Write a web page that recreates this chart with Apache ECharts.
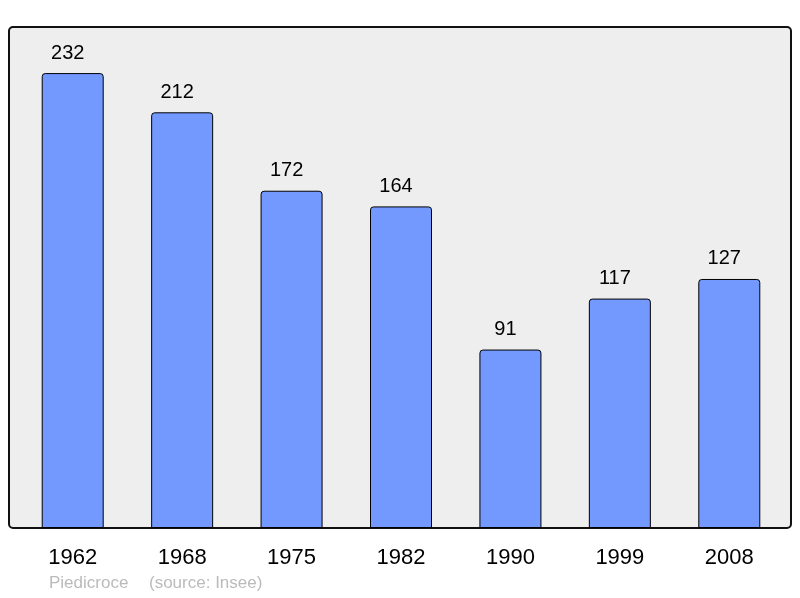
<!DOCTYPE html>
<html>
<head>
<meta charset="utf-8">
<script src="https://cdn.jsdelivr.net/npm/echarts@6/dist/echarts.min.js"></script>
<style>
  html, body { margin: 0; padding: 0; background: #fff; }
  #chart { width: 800px; height: 598px; }
</style>
</head>
<body>
<div id="chart"></div>
<script>
const years = ['1962', '1968', '1975', '1982', '1990', '1999', '2008'];
const population = [232, 212, 172, 164, 91, 117, 127];
const townName = 'Piedicroce';
const sourceText = '(source: Insee)';

const chart = echarts.init(document.getElementById('chart'));

const option = {
  animation: false,
  textStyle: { fontFamily: 'Liberation Sans, Arial, sans-serif' },
  grid: { left: 18, right: 16, top: 27, bottom: 70 },
  graphic: [
    {
      type: 'rect',
      z: -10,
      shape: { x: 9, y: 27, width: 782, height: 501, r: 4 },
      style: { fill: '#eeeeee', stroke: '#111', lineWidth: 2 }
    },
    {
      type: 'text',
      left: 49, top: 575,
      style: { text: townName, fill: '#bbbbbb', fontSize: 17, fontFamily: 'Liberation Sans, Arial, sans-serif' }
    },
    {
      type: 'text',
      left: 149, top: 575,
      style: { text: sourceText, fill: '#bbbbbb', fontSize: 17, fontFamily: 'Liberation Sans, Arial, sans-serif' }
    }
  ],
  xAxis: {
    type: 'category',
    data: years,
    axisLine: { show: false },
    axisTick: { show: false },
    axisLabel: { color: '#000', fontSize: 22, margin: 19 }
  },
  yAxis: {
    type: 'value',
    min: 0,
    max: 255.5,
    show: false,
    splitLine: { show: false }
  },
  series: [{
    type: 'bar',
    data: population,
    barWidth: 62,
    itemStyle: {
      color: '#7399ff',
      borderColor: '#000',
      borderWidth: 1,
      borderRadius: [3, 3, 0, 0]
    },
    label: {
      show: true,
      position: 'top',
      distance: 10,
      offset: [-5, 0],
      color: '#000',
      fontSize: 20
    }
  }]
};

chart.setOption(option);
</script>
</body>
</html>
